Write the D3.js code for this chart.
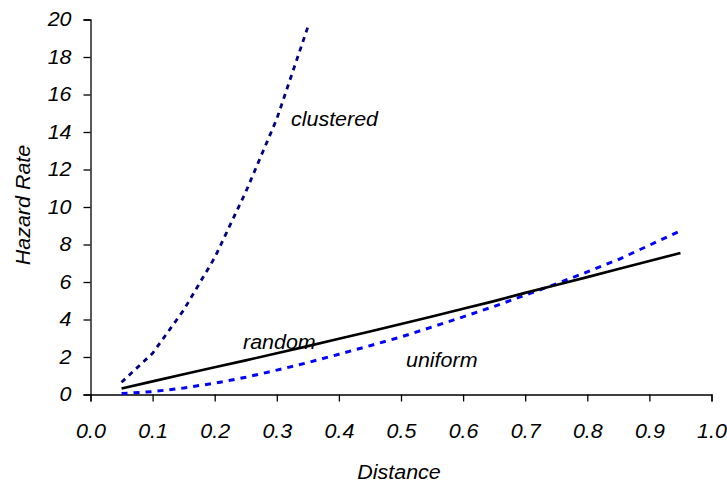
<!DOCTYPE html>
<html><head><meta charset="utf-8">
<script src="https://cdn.jsdelivr.net/npm/d3@7"></script>
<style>
html,body{margin:0;padding:0;background:#fff;}
svg text{font-family:"Liberation Sans",Arial,sans-serif;font-style:italic;fill:#000;}
</style></head>
<body><svg id="c" width="727" height="484"></svg>
<script>
const distance = [0.05,0.10,0.15,0.20,0.25,0.30,0.35,0.40,0.45,0.50,0.55,0.60,0.65,0.70,0.75,0.80,0.85,0.90,0.95];
const randomVals = [0.32,0.70,1.08,1.45,1.82,2.20,2.58,2.97,3.36,3.76,4.16,4.57,4.98,5.42,5.84,6.26,6.69,7.12,7.55];
const uniformVals = [0.05,0.15,0.35,0.60,0.92,1.30,1.70,2.15,2.60,3.07,3.60,4.14,4.70,5.30,5.90,6.54,7.20,7.96,8.73];
const clusteredDistance = [0.05,0.10,0.15,0.20,0.25,0.30,0.35];
const clusteredVals = [0.65,2.2,4.5,7.3,10.8,14.7,19.6];
const xTicks = [0,0.1,0.2,0.3,0.4,0.5,0.6,0.7,0.8,0.9,1.0];
const yTicks = [0,2,4,6,8,10,12,14,16,18,20];

const FS = 19.5, STRETCH = 1.1;
const svg = d3.select("#c");
const x = d3.scaleLinear().domain([0,1]).range([90.5,711.5]);
const y = d3.scaleLinear().domain([0,20]).range([394.5,19.5]);

// axes
const yAxis = svg.append("g").attr("transform","translate(90.5,0)")
  .call(d3.axisLeft(y).tickValues(yTicks).tickSize(7).tickPadding(12).tickFormat(d3.format("d")));
const xAxis = svg.append("g").attr("transform","translate(0,394.5)")
  .call(d3.axisBottom(x).tickValues(xTicks).tickSize(7).tickPadding(23).tickFormat(d3.format(".1f")));
[yAxis,xAxis].forEach(g=>{
  g.select(".domain").attr("stroke","#000").attr("stroke-width",1.3);
  g.selectAll(".tick line").attr("stroke","#000").attr("stroke-width",1.3);
  g.selectAll("text").attr("font-size",FS).style("font-family","'Liberation Sans',Arial,sans-serif").style("font-style","italic").attr("fill","#000");
});

const line = d3.line().x(d=>x(d[0])).y(d=>y(d[1]));
svg.append("path").datum(d3.zip(distance,uniformVals)).attr("d",line)
  .attr("fill","none").attr("stroke","#0000FF").attr("stroke-width",3).attr("stroke-dasharray","6,6");
svg.append("path").datum(d3.zip(clusteredDistance,clusteredVals)).attr("d",line)
  .attr("fill","none").attr("stroke","#000080").attr("stroke-width",2.8).attr("stroke-dasharray","5,5");
svg.append("path").datum(d3.zip(distance,randomVals)).attr("d",line)
  .attr("fill","none").attr("stroke","#000").attr("stroke-width",2.6);

// series labels
svg.append("text").attr("x",291).attr("y",126).attr("font-size",FS).text("clustered");
svg.append("text").attr("x",243).attr("y",349).attr("font-size",FS).text("random");
svg.append("text").attr("x",406).attr("y",367).attr("font-size",FS).text("uniform");

// axis titles
svg.append("text").attr("x",399).attr("y",479).attr("text-anchor","middle").attr("font-size",FS).text("Distance");
svg.append("text").attr("transform","translate(30,205) rotate(-90)").attr("text-anchor","middle").attr("font-size",FS).text("Hazard Rate");

// horizontal stretch of glyphs to match the reference's wider lettering
svg.selectAll("text").each(function(){
  const L = this.getComputedTextLength();
  d3.select(this).attr("textLength", L*STRETCH).attr("lengthAdjust","spacingAndGlyphs");
});
</script></body></html>
